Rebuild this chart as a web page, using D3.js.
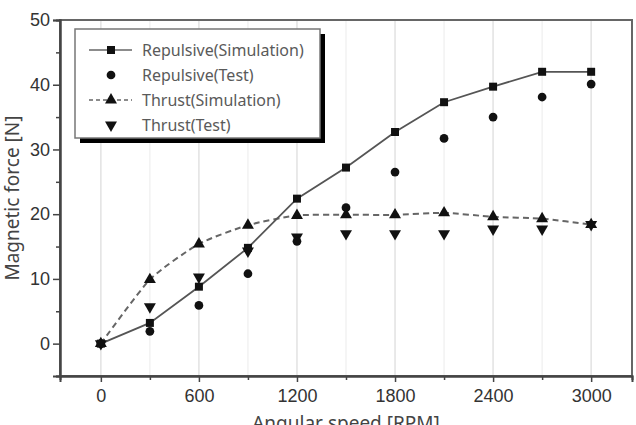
<!DOCTYPE html>
<html>
<head>
<meta charset="utf-8">
<script src="https://cdn.jsdelivr.net/npm/d3@7"></script>
<style>
  body { margin: 0; background: #fff; }
  svg { display: block; }
</style>
</head>
<body>
<div id="chart"></div>
<script>
const speeds = [0, 300, 600, 900, 1200, 1500, 1800, 2100, 2400, 2700, 3000]
const repulsiveSim = [0, 3.2, 8.8, 14.8, 22.4, 27.2, 32.7, 37.3, 39.7, 42.0, 42.0]
const repulsiveTest = [0, 1.9, 5.9, 10.8, 15.8, 21.0, 26.5, 31.7, 35.0, 38.1, 40.1]
const thrustSim = [0, 9.9, 15.4, 18.3, 19.8, 19.9, 19.9, 20.2, 19.6, 19.3, 18.4]
const thrustTest = [0, 5.7, 10.3, 14.3, 16.5, 17.0, 17.0, 17.0, 17.7, 17.7, 18.4]
const xTicks = [0, 600, 1200, 1800, 2400, 3000]
const yTicks = [0, 10, 20, 30, 40, 50]

const W = 636, H = 425
const MARGIN = { TOP: 20, BOTTOM: 49, LEFT: 60, RIGHT: 4 }
const WIDTH = W - MARGIN.LEFT - MARGIN.RIGHT
const HEIGHT = H - MARGIN.TOP - MARGIN.BOTTOM

const svg = d3.select("#chart").append("svg")
	.attr("width", W).attr("height", H)

const g = svg.append("g")
	.attr("transform", `translate(${MARGIN.LEFT}, ${MARGIN.TOP})`)

const x = d3.scaleLinear().domain([-250, 3250]).range([0, WIDTH])
const y = d3.scaleLinear().domain([-5, 50]).range([HEIGHT, 0])

// grid lines, minor ones fainter
g.selectAll("line.minorGrid")
	.data(d3.range(300, 3000, 600))
	.enter().append("line")
	.attr("x1", d => x(d)).attr("x2", d => x(d))
	.attr("y1", 0).attr("y2", HEIGHT)
	.attr("stroke", "#f2f2f2").attr("stroke-width", 1.5)

g.selectAll("line.majorGrid")
	.data(xTicks)
	.enter().append("line")
	.attr("x1", d => x(d)).attr("x2", d => x(d))
	.attr("y1", 0).attr("y2", HEIGHT)
	.attr("stroke", "#e2e2e2").attr("stroke-width", 1.5)

// frame
g.append("rect")
	.attr("x", 0).attr("y", 0)
	.attr("width", WIDTH).attr("height", HEIGHT)
	.attr("fill", "none")
	.attr("stroke", "#666").attr("stroke-width", 2)

// axes
const xAxis = g.append("g")
	.attr("transform", `translate(0, ${HEIGHT})`)
	.call(d3.axisBottom(x).tickValues(xTicks).tickSize(6).tickPadding(7).tickFormat(d3.format("d")))
const xMinor = g.append("g")
	.attr("transform", `translate(0, ${HEIGHT})`)
	.call(d3.axisBottom(x).tickValues(d3.range(300, 3000, 600)).tickSize(4).tickFormat(""))

const yAxis = g.append("g")
	.call(d3.axisLeft(y).tickValues(yTicks).tickSize(7).tickPadding(3))
const yMinor = g.append("g")
	.call(d3.axisLeft(y).tickValues(d3.range(-5, 50, 10)).tickSize(4).tickFormat(""))

;[xAxis, xMinor, yAxis, yMinor].forEach(a => {
	a.select(".domain").attr("stroke", "#444").attr("stroke-width", 2)
	a.selectAll(".tick line").attr("stroke", "#444").attr("stroke-width", 1.5)
	a.selectAll("text")
		.attr("fill", "#333")
		.attr("font-family", "'Liberation Sans', Arial, sans-serif")
		.attr("font-size", 18)
})

// axis titles
svg.append("text")
	.attr("x", MARGIN.LEFT + WIDTH / 2)
	.attr("y", 430)
	.attr("text-anchor", "middle")
	.attr("fill", "#444")
	.style("font-family", "'Noto Sans', 'Open Sans', sans-serif")
	.style("font-size", "19px")
	.text("Angular speed [RPM]")

svg.append("text")
	.attr("x", -(MARGIN.TOP + HEIGHT / 2))
	.attr("y", 19)
	.attr("text-anchor", "middle")
	.attr("transform", "rotate(-90)")
	.attr("fill", "#444")
	.style("font-family", "'Noto Sans', 'Open Sans', sans-serif")
	.style("font-size", "19px")
	.text("Magnetic force [N]")

// symbols
const sq = d3.symbol().type(d3.symbolSquare).size(64)
const circ = d3.symbol().type(d3.symbolCircle).size(60)
const tri = d3.symbol().type(d3.symbolTriangle).size(62)

function drawMarks(values, sym, rot) {
	g.append("g").selectAll("path")
		.data(values)
		.enter().append("path")
		.attr("d", sym)
		.attr("transform", (d, i) => `translate(${x(speeds[i])}, ${y(d)})` + (rot ? " rotate(180)" : ""))
		.attr("fill", "#111")
}

// lines
const linearLine = d3.line()
	.x((d, i) => x(speeds[i])).y(d => y(d))
const smoothLine = d3.line()
	.x((d, i) => x(speeds[i])).y(d => y(d))
	.curve(d3.curveCardinal.tension(0.4))

g.append("path")
	.datum(thrustSim)
	.attr("d", smoothLine)
	.attr("fill", "none")
	.attr("stroke", "#666").attr("stroke-width", 2)
	.attr("stroke-dasharray", "6,4")

g.append("path")
	.datum(repulsiveSim)
	.attr("d", linearLine)
	.attr("fill", "none")
	.attr("stroke", "#555").attr("stroke-width", 1.8)

drawMarks(thrustTest, tri, true)
drawMarks(thrustSim, tri, false)
drawMarks(repulsiveTest, circ, false)
drawMarks(repulsiveSim, sq, false)

// legend
const legend = svg.append("g").attr("transform", "translate(75, 29)")
legend.append("rect")
	.attr("x", 5).attr("y", 5).attr("width", 245).attr("height", 109)
	.attr("fill", "#000")
legend.append("rect")
	.attr("x", 0).attr("y", 0).attr("width", 245).attr("height", 109)
	.attr("fill", "#fff").attr("stroke", "#777").attr("stroke-width", 1.5)

const legendItems = [
	{ label: "Repulsive(Simulation)", sym: sq, rot: false, dash: null },
	{ label: "Repulsive(Test)", sym: circ, rot: false, dash: undefined },
	{ label: "Thrust(Simulation)", sym: tri, rot: false, dash: "4,3" },
	{ label: "Thrust(Test)", sym: tri, rot: true, dash: undefined }
]

legendItems.forEach((item, i) => {
	const row = legend.append("g").attr("transform", `translate(0, ${21 + i * 25})`)
	if (item.dash !== undefined) {
		row.append("line")
			.attr("x1", 14).attr("x2", 57).attr("y1", 0).attr("y2", 0)
			.attr("stroke", "#666").attr("stroke-width", 1.5)
			.attr("stroke-dasharray", item.dash)
	}
	row.append("path")
		.attr("d", item.sym)
		.attr("transform", `translate(36, 0)` + (item.rot ? " rotate(180)" : ""))
		.attr("fill", "#111")
	row.append("text")
		.attr("x", 67).attr("y", 6)
		.attr("fill", "#5a5a5a")
		.style("font-family", "'Noto Sans', 'Open Sans', sans-serif")
		.style("font-size", "16px")
		.text(item.label)
})
</script>
</body>
</html>
